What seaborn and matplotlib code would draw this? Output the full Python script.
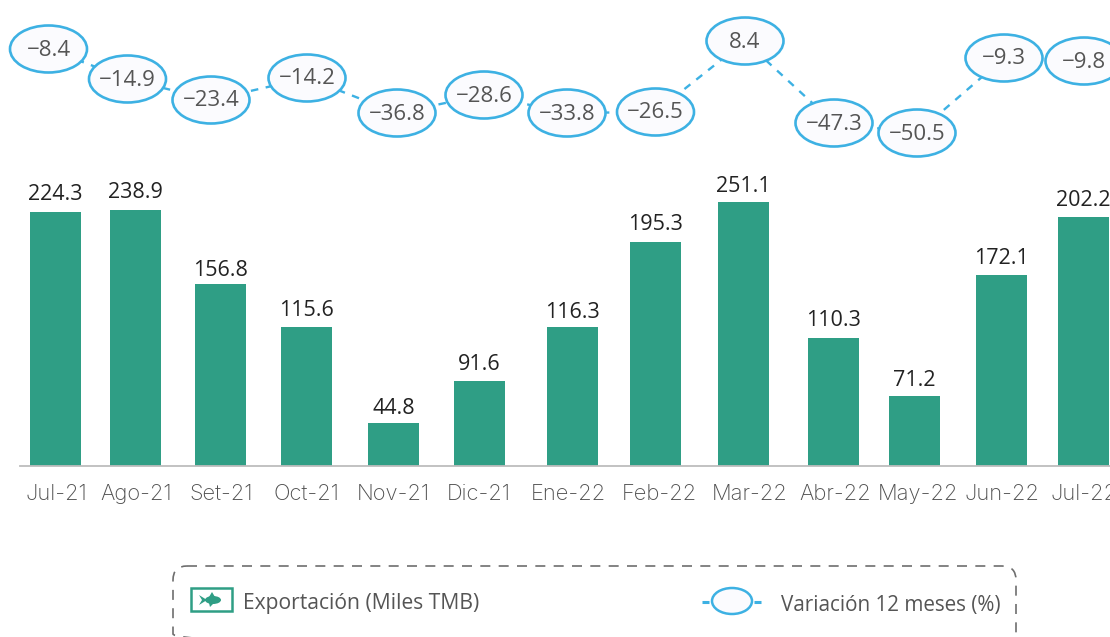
import matplotlib
matplotlib.use("Agg")
import matplotlib.pyplot as plt
import seaborn as sns
import pandas as pd
from matplotlib.patches import Ellipse, FancyBboxPatch, Rectangle, Polygon

months = ["Jul-21", "Ago-21", "Set-21", "Oct-21", "Nov-21", "Dic-21", "Ene-22",
          "Feb-22", "Mar-22", "Abr-22", "May-22", "Jun-22", "Jul-22"]
export_labels = ["224.3", "238.9", "156.8", "115.6", "44.8", "91.6", "116.3",
                 "195.3", "251.1", "110.3", "71.2", "172.1", "202.2"]
variation_labels = ["−8.4", "−14.9", "−23.4", "−14.2", "−36.8", "−28.6", "−33.8",
                    "−26.5", "8.4", "−47.3", "−50.5", "−9.3", "−9.8"]
# The infographic's hand-placed marks (height above the baseline)
bar_heights = [254, 256, 182, 139, 43, 85, 139, 224, 264, 128, 70, 191, 249]
bar_x = [55.5, 135.5, 220.5, 306.5, 393.5, 479.5, 572.5, 655.5, 743.5, 833.5, 914.5, 1001.5, 1083]
bubble_heights = [417, 387, 366, 388, 353, 371, 353, 354, 425, 343, 333, 408, 405]
bubble_x = [48.5, 127.5, 211, 307, 397, 484, 567, 655.5, 745, 834, 917, 1004, 1084]
tick_x = [56, 136, 221, 306, 393, 479, 568, 659, 750, 835, 918, 1002, 1084]
label_gap = [17, 17, 14, 16, 15, 16, 14, 17, 15, 17, 15, 17, 17]

GREEN = "#2F9E85"
BLUE = "#3DB1E3"
TXT = "#555555"
DARK = "#222222"

sns.set_theme(style="white")
plt.rcParams["font.family"] = ["Open Sans", "DejaVu Sans"]

W, H = 1110, 637
fig = plt.figure(figsize=(W / 100, H / 100), dpi=100)
fig.patch.set_facecolor("white")
ax = fig.add_axes([0, (H - 466) / H, 1, 466 / H])
ax.set_facecolor("none")

df = pd.DataFrame({"x": bar_x, "h": bar_heights})
sns.barplot(data=df, x="x", y="h", native_scale=True, width=51 / 80, color=GREEN,
            saturation=1, ax=ax, zorder=2, linewidth=0)
line_df = pd.DataFrame({"x": bubble_x, "h": bubble_heights})
sns.lineplot(data=line_df, x="x", y="h", color=BLUE, lw=1.7, ax=ax, zorder=3,
             linestyle=(0, (3.2, 3.2)), errorbar=None, sort=False)

ax.set_xlim(0, W)
ax.set_ylim(0, 466)
ax.set_xlabel("")
ax.set_ylabel("")
ax.set_yticks([])
ax.set_xticks(tick_x)
ax.set_xticklabels(months, fontsize=15.8, color="#4F4F4F", family=["Inter", "DejaVu Sans"],
                   fontweight="light")
ax.tick_params(axis="x", length=0, pad=13)
for s in ["top", "left", "right"]:
    ax.spines[s].set_visible(False)
ax.spines["bottom"].set_bounds(20, W)
ax.spines["bottom"].set_color("#BDBDBD")
ax.spines["bottom"].set_linewidth(1.3)

for x, h, g, t in zip(bar_x, bar_heights, label_gap, export_labels):
    ax.text(x, h + g, t, ha="center", va="center", fontsize=15.5, color=DARK, zorder=6)

for x, h, t in zip(bubble_x, bubble_heights, variation_labels):
    ax.add_patch(Ellipse((x, h), 77, 47, fc="#FBFBFE", ec=BLUE, lw=1.9, zorder=4, clip_on=False))
    ax.text(x, h - 1, t, ha="center", va="center", fontsize=16, color=TXT, zorder=5)

# legend panel, in pixel coordinates of the figure
lg = fig.add_axes([0, 0, 1, 1], zorder=5)
lg.set_xlim(0, W)
lg.set_ylim(H, 0)
lg.axis("off")
lg.add_patch(FancyBboxPatch((173, 566), 843, 82, boxstyle="round,pad=0,rounding_size=14",
                            fc="none", ec="#6E6E6E", lw=1.2, linestyle=(0, (6, 5))))
lg.add_patch(Rectangle((191, 588), 41, 23, fc="white", ec=GREEN, lw=1.8))
lg.add_patch(Ellipse((213, 600), 16, 8, fc=GREEN, ec="none"))
lg.add_patch(Polygon([(199, 595), (207, 600), (199, 605), (202, 600)], fc=GREEN, ec="none"))
lg.add_patch(Polygon([(209, 597), (212, 592), (215, 597)], fc=GREEN, ec="none"))
lg.add_patch(Polygon([(209, 603), (210, 607), (214, 603)], fc=GREEN, ec="none"))
lg.text(243, 604, "Exportación (Miles TMB)", va="center", ha="left", fontsize=15.2, color=TXT)
lg.add_patch(Ellipse((732, 601), 40, 26, fc="#FBFBFE", ec=BLUE, lw=1.8))
lg.plot([702, 709], [602, 602], color=BLUE, lw=2.2, solid_capstyle="butt")
lg.plot([754, 761], [602, 602], color=BLUE, lw=2.2, solid_capstyle="butt")
lg.text(781, 605, "Variación 12 meses (%)", va="center", ha="left", fontsize=14.9, color=TXT)

fig.savefig("out.png", dpi=100)
